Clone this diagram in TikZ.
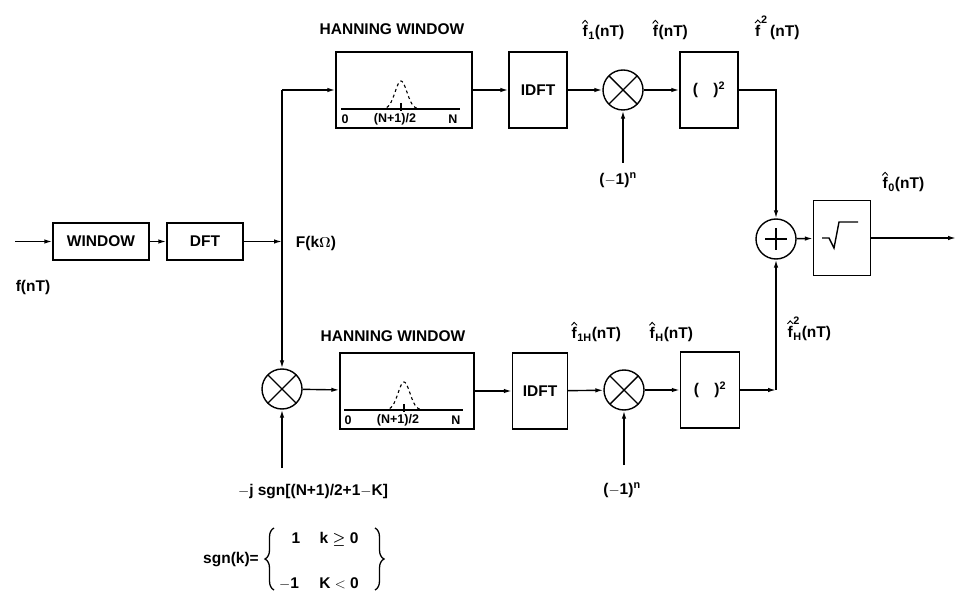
\documentclass[tikz,border=0pt]{standalone}
\usepackage{amsmath}
\usepackage{fontspec}
\setmainfont{Liberation Sans}
\usetikzlibrary{arrows.meta, calc, decorations.pathreplacing}

\newcommand{\fh}{\mbox{\tikz[baseline=0pt, x=1pt, y=1pt, line width=0.9pt]{\node[inner sep=0pt, anchor=base] (fchr) at (0,0) {f}; \draw (-2.8,13.5) -- (0,16.5) -- (2.8,13.5);}}}

\begin{document}
\begin{tikzpicture}[x=1pt, y=-1pt, >={Latex[length=8pt, width=4.5pt]}, line width=1.4pt,
  every node/.style={font=\fontsize{15.5}{17}\selectfont\bfseries},
  blk/.style={draw, minimum width=#1, minimum height=76, inner sep=0pt},
  mult/.style={circle, draw, minimum size=40, inner sep=0pt,
    path picture={\draw (path picture bounding box.north west) -- (path picture bounding box.south east)
      (path picture bounding box.north east) -- (path picture bounding box.south west);}},
  summ/.style={circle, draw, minimum size=40, inner sep=0pt,
    path picture={\draw ($(path picture bounding box.center)+(-11,0)$) -- ++(22,0)
      ($(path picture bounding box.center)+(0,-11)$) -- ++(0,22);}},
  small/.style={font=\fontsize{12.5}{14}\selectfont\bfseries, inner sep=0pt},
  curly/.style={decorate, decoration={brace, amplitude=9pt}, line width=1.3pt}]
  \useasboundingbox (0,0) rectangle (957,593);

  % front end
  \node[draw, minimum width=96, minimum height=37, inner sep=0pt] (win) at (101,241.5) {WINDOW};
  \node[draw, minimum width=76, minimum height=37, inner sep=0pt] (dft) at (205,241.5) {DFT};
  \coordinate (in) at (15,241.5);
  \coordinate (fk) at (282,241.5);
  \coordinate (top) at (282,90);
  \draw[->] (in) -- (win);
  \draw[->] (win) -- (dft);
  \draw[->] (dft) -- (fk);
  \node (lfn) at (33,287) {f(nT)};
  \node (lfk) at (316,243) {F(k$\boldsymbol{\Omega}$)};

  % upper branch
  \node[blk=136] (hanA) at (404,90) {};
  \node[blk=58] (idftA) at (538,90) {IDFT};
  \node[mult] (mulA) at (623,90) {};
  \node[blk=58] (sqA) at (709,90) {(\quad)$^{\text{2}}$};
  \coordinate (nA) at (623,163);
  \coordinate (cA) at (776,90);
  \draw[->] (top) -- (hanA);
  \draw[->] (hanA) -- (idftA);
  \draw[->] (idftA) -- (mulA);
  \draw[->] (mulA) -- (sqA);
  \draw[->] (nA) -- (mulA);
  \node (lhanA) at (392,29) {HANNING WINDOW};
  \node (lf1) at (603,30) {$\fh_{\text{1}}$(nT)};
  \node (lf) at (670,30) {$\fh$(nT)};
  \node (lf2) at (777,28) {$\fh^{\text{2}}$\,(nT)};
  \node (lnA) at (618,180) {($-$1)$^{\text{n}}$};

  % lower branch
  \node[mult] (mulC) at (282,389) {};
  \node[blk=134] (hanB) at (407,391) {};
  \node[blk=55] (idftB) at (540,391) {IDFT};
  \node[mult] (mulB) at (624,390) {};
  \node[blk=59] (sqB) at (710,390) {(\quad)$^{\text{2}}$};
  \coordinate (jB) at (282,468);
  \coordinate (nB) at (624,465);
  \coordinate (cB) at (776,390);
  \draw[->] (top) -- (mulC);
  \draw[->] (jB) -- (mulC);
  \draw[->] (mulC) -- (hanB);
  \draw[->] (hanB) -- (idftB);
  \draw[->] (idftB) -- (mulB);
  \draw[->] (mulB) -- (sqB);
  \draw[->] (nB) -- (mulB);
  \node (lhanB) at (393,336) {HANNING WINDOW};
  \node (lf1H) at (596,332) {$\fh_{\text{1H}}$(nT)};
  \node (lfH) at (671,332) {$\fh_{\text{H}}$(nT)};
  \node (lfH2) at (809,329) {$\fh^{\text{2}}_{\text{H}}$(nT)};
  \node (lnB) at (622,490) {($-$1)$^{\text{n}}$};
  \node (ljs) at (313,492) {$-$j sgn[(N+1)/2+1$-$K]};

  % sgn definition
  \node (lsgn) at (231,560) {sgn(k)=};
  \node[anchor=base] (one) at (296,543) {1};
  \node[anchor=base] (kge) at (339,543) {k $\boldsymbol{\geq}$ 0};
  \node[anchor=base] (mone) at (289,588) {$-$1};
  \node[anchor=base] (klt) at (339,588) {K $<$ 0};
  \coordinate (blA) at (274,590);
  \coordinate (blB) at (274,528);
  \coordinate (brA) at (375,528);
  \coordinate (brB) at (375,590);
  \draw[curly] (blA) -- (blB);
  \draw[curly] (brA) -- (brB);

  % hanning windows
  \foreach \h in {hanA,hanB} {
    \draw[line width=1.1pt] ($(\h)+(-63,19)$) -- ($(\h)+(56,19)$);
    \draw[line width=1.1pt, dashed, shift={($(\h)+(-3,19)$)}] plot[domain=-20:20, samples=41] (\x, {-28*exp(-(\x*\x)/70)});
    \draw[line width=1.1pt] ($(\h)+(-3,13)$) -- ($(\h)+(-3,21)$);
    \node[small] (z\h) at ($(\h)+(-59,29)$) {0};
    \node[small] (m\h) at ($(\h)+(-9,29)$) {(N+1)/2};
    \node[small] (n\h) at ($(\h)+(49,29)$) {N};
  }

  % combiner
  \node[summ] (sum) at (776,239) {};
  \node[draw, minimum width=57, minimum height=75, inner sep=0pt] (root) at (842,238) {};
  \coordinate (out) at (956,238);
  \draw[->] (sqA) -- (cA) -- (sum);
  \draw[->] (sqB) -- (cB);
  \draw[->] (cB) -- (sum);
  \draw[->] (sum) -- (root);
  \draw[->] (root) -- (out);
  \draw ($(root)+(-20,0)$) -- ++(7,0) -- ++(5,10) -- ++(5,-26) -- ++(19,0);
  \node (lf0) at (903,182) {$\fh_{\text{0}}$(nT)};
\end{tikzpicture}
\end{document}
